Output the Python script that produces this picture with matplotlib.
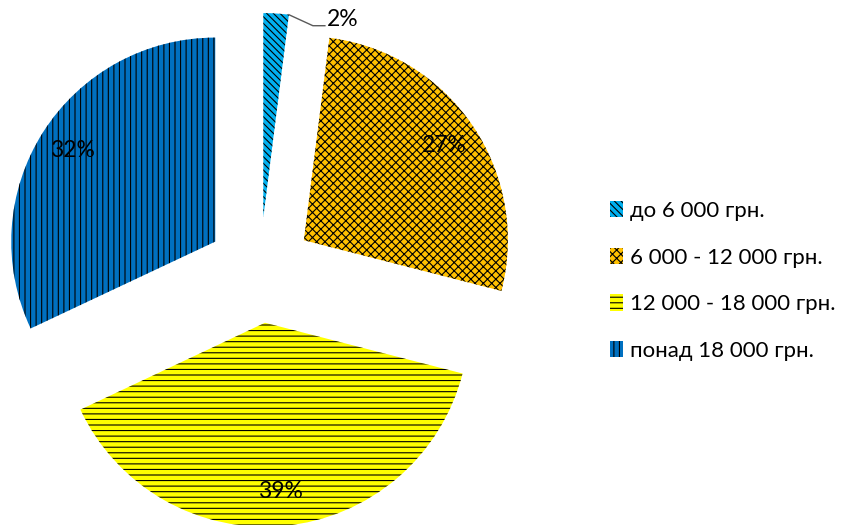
import matplotlib
matplotlib.use("Agg")
import matplotlib.pyplot as plt
import numpy as np

# ---- data ----
labels = ["до 6 000 грн.", "6 000 - 12 000 грн.", "12 000 - 18 000 грн.", "понад 18 000 грн."]
shares = [2, 27, 39, 32]
colors = ["#00B0F0", "#FFC000", "#FFFF00", "#0070C0"]
hatches = ["\\\\\\\\\\", "xxxx", "---", "|||"]

plt.rcParams["font.family"] = ["Lato", "Open Sans", "DejaVu Sans"]
plt.rcParams["hatch.color"] = "black"
plt.rcParams["hatch.linewidth"] = 0.8

W, H = 847, 525
fig = plt.figure(figsize=(W / 100, H / 100), dpi=100)
ax = fig.add_axes([0, 0, 1, 1])

R = 204
center = (260, 255)
wedges, texts, autotexts = ax.pie(
    shares, colors=colors, startangle=90, counterclock=False,
    radius=R, center=center, explode=[53] * 4,
    autopct="%d%%", pctdistance=0.83, frame=True,
    wedgeprops=dict(linewidth=0, edgecolor="black"),
    textprops=dict(fontsize=16.5, color="black"))
ax.set_xlim(0, W)
ax.set_ylim(0, H)
ax.set_aspect("equal")
ax.axis("off")

for w, h in zip(wedges, hatches):
    w.set_hatch(h)

# small slice: label outside with a leader line
w0 = wedges[0]
ang = np.deg2rad(min(w0.theta1, w0.theta2))
cx, cy = w0.center
px, py = cx + R * np.cos(ang), cy + R * np.sin(ang)
lx = [px, px + 24, px + 36]
ly = [py, py - 11, py - 11]
ax.plot(lx, ly, color="#595959", lw=1)
autotexts[0].set_position((lx[-1] + 2, ly[-1]))
autotexts[0].set_ha("left")
autotexts[0].set_va("baseline")

ax.legend(wedges, labels, loc="center left", bbox_to_anchor=(590 / W, 1 - 281 / H),
          bbox_transform=fig.transFigure, frameon=False, fontsize=16,
          handlelength=0.6, handleheight=0.75, handletextpad=0.3, labelspacing=1.2)

fig.savefig("out.png", dpi=100)
